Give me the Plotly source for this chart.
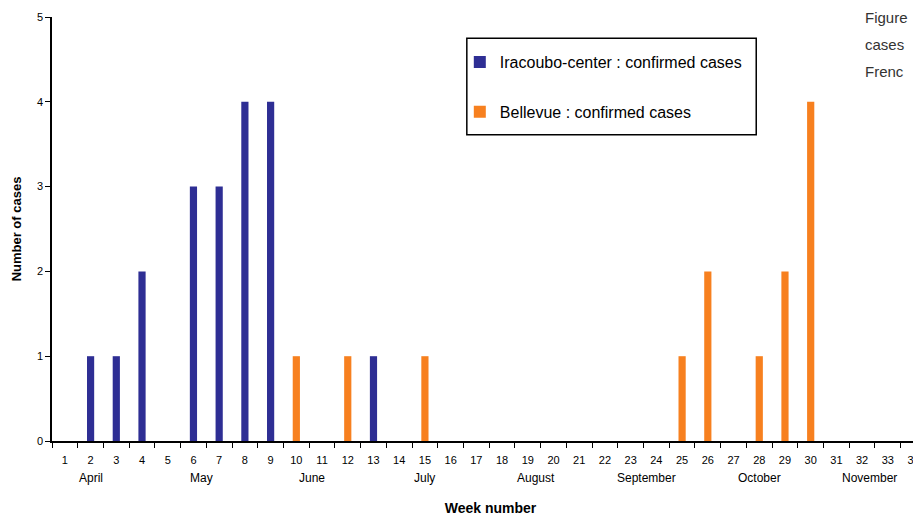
import plotly.graph_objects as go

weeks = list(range(1, 35))
iracoubo_weeks = [2, 3, 4, 6, 7, 8, 9, 13]
iracoubo_cases = [1, 1, 2, 3, 3, 4, 4, 1]
bellevue_weeks = [10, 12, 15, 25, 26, 28, 29, 30]
bellevue_cases = [1, 1, 1, 1, 2, 1, 2, 4]
months = ["April", "May", "June", "July", "August", "September", "October", "November"]
month_pos = [2.0, 6.3, 10.6, 15.0, 19.3, 23.6, 28.0, 32.3]
side_text = ["Figure", "cases", "Frenc"]

fig = go.Figure()
fig.add_trace(go.Bar(x=iracoubo_weeks, y=iracoubo_cases, name="Iracoubo-center : confirmed cases",
                     marker=dict(color="#2e2e94", line=dict(width=0)), width=0.28,
                     legendgroup="a"))
fig.add_trace(go.Bar(x=bellevue_weeks, y=bellevue_cases, name="Bellevue : confirmed cases",
                     marker=dict(color="#f7801f", line=dict(width=0)), width=0.28,
                     legendgroup="b"))

for m, p in zip(months, month_pos):
    fig.add_annotation(x=p, y=0, xref="x", yref="paper", yanchor="middle", yshift=-37,
                       text=m, showarrow=False,
                       font=dict(family="Liberation Sans", size=12, color="black"))

for i, t in enumerate(side_text):
    fig.add_annotation(x=0, y=1.0, xref="paper", yref="paper", xanchor="left", yanchor="middle",
                       xshift=811, yshift=-27 * i, showarrow=False, text=t,
                       font=dict(family="Liberation Sans", size=15, color="#333333"))

# legend frame
fig.add_shape(type="rect", xref="paper", yref="paper", x0=0.473, x1=0.803, y0=0.722, y1=0.950,
              line=dict(color="black", width=1.5), fillcolor="white", layer="below")

fig.update_layout(
    width=921, height=514,
    margin=dict(l=44, r=0, t=9, b=81),
    paper_bgcolor="white", plot_bgcolor="white",
    barmode="overlay",
    font=dict(family="Liberation Sans", color="black"),
    showlegend=True,
    legend=dict(x=0.465, y=0.934, xanchor="left", yanchor="top",
                borderwidth=0, bgcolor="rgba(0,0,0,0)",
                font=dict(size=16, family="Liberation Sans"),
                traceorder="grouped", tracegroupgap=26,
                itemwidth=30),
    xaxis=dict(range=[0.5, 34.6], tickmode="array", tickvals=weeks,
               ticktext=[str(w) for w in weeks], ticks="", showgrid=False,
               showline=True, linecolor="black", linewidth=1.5,
               tickfont=dict(size=11, family="Liberation Sans"),
               ticklabelstandoff=8,
               minor=dict(tick0=0.5, dtick=1, ticks="outside", ticklen=5,
                          tickcolor="black", showgrid=False),
               title=dict(text="<b>Week number</b>", font=dict(size=14), standoff=38),
               zeroline=False, automargin=False),
    yaxis=dict(range=[0, 5], dtick=1, ticks="outside", ticklen=5, tickcolor="black",
               showgrid=False, showline=True, linecolor="black", linewidth=1.5,
               tickfont=dict(size=11, family="Liberation Sans"),
               title=dict(text="<b>Number of cases</b>", font=dict(size=13), standoff=12),
               zeroline=False, automargin=False),
)

fig.write_html("out.html")
